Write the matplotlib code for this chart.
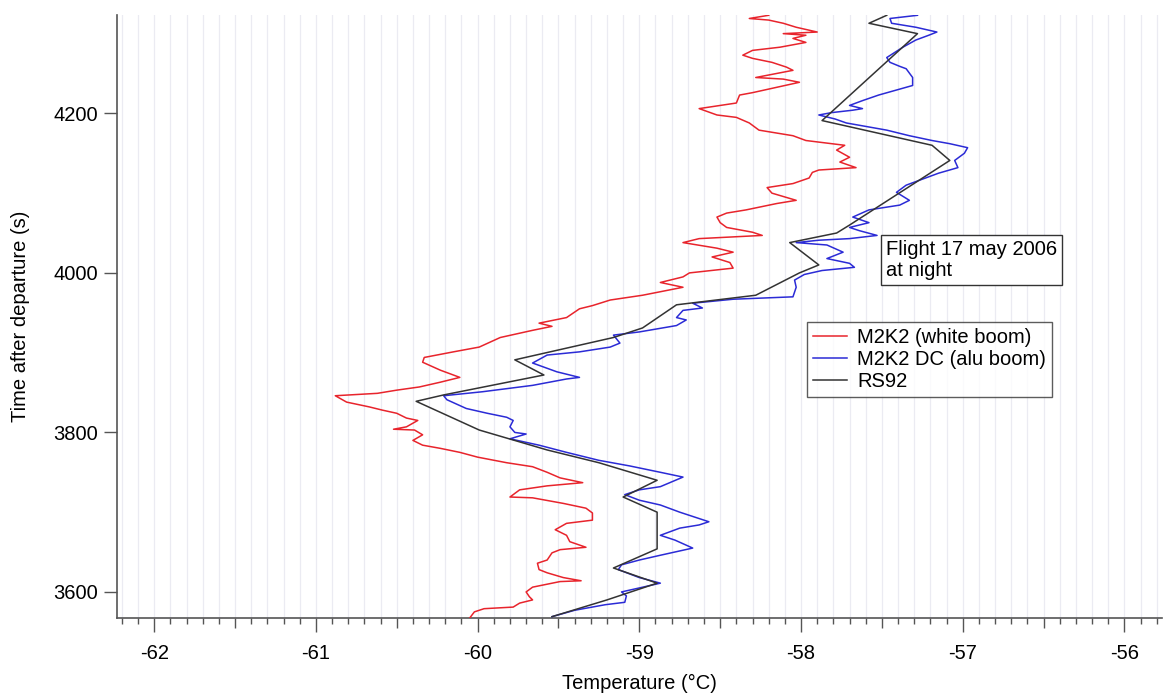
import numpy as np
import matplotlib
matplotlib.use("Agg")
import matplotlib.pyplot as plt
from matplotlib.ticker import MultipleLocator, FuncFormatter

plt.rcParams['font.family'] = ['Liberation Sans', 'DejaVu Sans']

# ------------------ Sounding data (time after departure in s, temperature in degC) ------------------
rs92_time = [3569, 3590, 3611, 3630, 3654, 3700, 3719, 3740, 3762, 3778,
             3803, 3839, 3847, 3872, 3891, 3919, 3931, 3960, 3972, 4000,
             4010, 4038, 4050, 4060, 4141, 4160, 4191, 4300, 4313, 4323]
rs92_temp = [-59.54, -59.20, -58.89, -59.16, -58.89, -58.89, -59.10, -58.89, -59.25, -59.57,
             -59.99, -60.38, -60.21, -59.59, -59.77, -59.16, -58.98, -58.77, -58.28, -58.01,
             -57.89, -58.07, -57.78, -57.70, -57.08, -57.19, -57.87, -57.28, -57.58, -57.47]

white_time = [3567, 3575, 3579, 3581, 3586, 3590, 3594, 3600, 3606, 3613,
              3614, 3618, 3624, 3628, 3636, 3640, 3649, 3653, 3656, 3663,
              3671, 3678, 3686, 3690, 3699, 3705, 3711, 3718, 3719, 3728,
              3733, 3737, 3743, 3750, 3757, 3762, 3769, 3775, 3780, 3784,
              3790, 3797, 3803, 3804, 3807, 3815, 3818, 3824, 3828, 3832,
              3838, 3846, 3849, 3853, 3857, 3863, 3869, 3878, 3888, 3894,
              3901, 3907, 3919, 3928, 3933, 3937, 3944, 3955, 3959, 3966,
              3972, 3978, 3982, 3988, 3995, 4000, 4006, 4013, 4020, 4026,
              4031, 4038, 4043, 4047, 4051, 4057, 4063, 4070, 4075, 4079,
              4087, 4091, 4100, 4107, 4112, 4119, 4126, 4129, 4132, 4139,
              4145, 4154, 4160, 4166, 4172, 4179, 4188, 4195, 4198, 4206,
              4213, 4223, 4226, 4239, 4243, 4245, 4254, 4258, 4264, 4269,
              4273, 4279, 4283, 4289, 4294, 4298, 4300, 4302, 4308, 4313,
              4317, 4319, 4323]
white_temp = [-60.05, -60.02, -59.96, -59.78, -59.74, -59.66, -59.68, -59.70, -59.66, -59.49,
              -59.36, -59.47, -59.57, -59.62, -59.63, -59.57, -59.54, -59.49, -59.33, -59.43,
              -59.45, -59.52, -59.45, -59.29, -59.29, -59.33, -59.47, -59.66, -59.80, -59.74,
              -59.57, -59.35, -59.49, -59.57, -59.66, -59.82, -60.00, -60.11, -60.23, -60.34,
              -60.40, -60.34, -60.39, -60.52, -60.44, -60.37, -60.44, -60.50, -60.59, -60.67,
              -60.81, -60.88, -60.62, -60.50, -60.36, -60.23, -60.11, -60.23, -60.34, -60.33,
              -60.15, -59.99, -59.86, -59.66, -59.54, -59.62, -59.45, -59.37, -59.29, -59.18,
              -58.98, -58.83, -58.73, -58.87, -58.73, -58.69, -58.42, -58.44, -58.55, -58.42,
              -58.52, -58.73, -58.63, -58.24, -58.30, -58.46, -58.50, -58.52, -58.46, -58.34,
              -58.15, -58.03, -58.18, -58.21, -58.05, -57.95, -57.93, -57.89, -57.66, -57.76,
              -57.70, -57.78, -57.73, -57.97, -58.05, -58.26, -58.32, -58.40, -58.52, -58.63,
              -58.40, -58.38, -58.30, -58.01, -58.11, -58.28, -58.05, -58.09, -58.18, -58.30,
              -58.36, -58.30, -58.13, -57.97, -58.05, -57.97, -58.11, -57.90, -58.03, -58.11,
              -58.20, -58.32, -58.20]

alu_time = [3569, 3577, 3584, 3587, 3595, 3600, 3605, 3611, 3618, 3628,
            3634, 3640, 3646, 3655, 3665, 3671, 3680, 3684, 3688, 3694,
            3700, 3709, 3715, 3722, 3728, 3732, 3744, 3750, 3758, 3765,
            3775, 3784, 3792, 3798, 3800, 3807, 3815, 3819, 3824, 3830,
            3841, 3846, 3851, 3859, 3867, 3869, 3876, 3887, 3897, 3901,
            3907, 3912, 3922, 3926, 3934, 3941, 3944, 3953, 3956, 3962,
            3967, 3970, 3982, 3991, 3998, 4003, 4007, 4012, 4018, 4026,
            4035, 4038, 4041, 4043, 4047, 4053, 4057, 4063, 4070, 4079,
            4085, 4091, 4101, 4110, 4116, 4125, 4132, 4141, 4150, 4157,
            4162, 4166, 4172, 4179, 4188, 4193, 4198, 4201, 4204, 4206,
            4210, 4216, 4223, 4235, 4245, 4256, 4259, 4264, 4270, 4283,
            4292, 4298, 4302, 4308, 4313, 4319, 4323]
alu_temp = [-59.54, -59.40, -59.21, -59.09, -59.08, -59.11, -59.00, -58.87, -59.00, -59.13,
            -59.11, -59.00, -58.87, -58.67, -58.78, -58.87, -58.75, -58.63, -58.57, -58.66,
            -58.75, -58.87, -59.00, -59.09, -59.00, -58.87, -58.73, -58.87, -59.06, -59.25,
            -59.45, -59.62, -59.80, -59.70, -59.77, -59.80, -59.78, -59.82, -59.94, -60.07,
            -60.19, -60.21, -59.97, -59.66, -59.45, -59.37, -59.51, -59.66, -59.57, -59.37,
            -59.18, -59.12, -59.16, -59.00, -58.77, -58.71, -58.77, -58.73, -58.61, -58.67,
            -58.42, -58.05, -58.03, -58.04, -57.98, -57.87, -57.67, -57.70, -57.84, -57.74,
            -57.84, -58.03, -57.89, -57.70, -57.53, -57.64, -57.70, -57.58, -57.68, -57.58,
            -57.39, -57.33, -57.41, -57.35, -57.27, -57.15, -57.03, -57.05, -56.99, -56.97,
            -57.08, -57.19, -57.33, -57.47, -57.72, -57.79, -57.89, -57.81, -57.68, -57.62,
            -57.70, -57.62, -57.52, -57.31, -57.31, -57.35, -57.39, -57.45, -57.47, -57.37,
            -57.29, -57.21, -57.16, -57.29, -57.44, -57.45, -57.28]

x_limits = (-62.23, -55.77)
y_limits = (3567.5, 4323)

# ------------------ Figure ------------------
fig = plt.figure(figsize=(11.64, 6.95), dpi=100)
ax = fig.add_axes([0.1005, 0.111, 0.8975, 0.867])

ax.plot(white_temp, white_time, color='#e8242c', lw=1.1, label='M2K2 (white boom)', zorder=3)
ax.plot(alu_temp, alu_time, color='#2b2bd6', lw=1.1, label='M2K2 DC (alu boom)', zorder=3)
ax.plot(rs92_temp, rs92_time, color='#333333', lw=1.1, label='RS92', zorder=4)

ax.set_xlim(*x_limits)
ax.set_ylim(*y_limits)

# axes: left and bottom only
for side in ['top', 'right']:
  ax.spines[side].set_visible(False)
for side in ['left', 'bottom']:
  ax.spines[side].set_color('#555555')
  ax.spines[side].set_linewidth(1.2)

# x ticks: majors every 0.5 (labels on integers only), minors every 0.1
ax.xaxis.set_major_locator(MultipleLocator(0.5))
ax.xaxis.set_minor_locator(MultipleLocator(0.1))
ax.xaxis.set_major_formatter(FuncFormatter(
  lambda v, p: f"{v:.0f}" if abs(v - round(v)) < 1e-6 else ""))
ax.yaxis.set_major_locator(MultipleLocator(200))
ax.yaxis.set_minor_locator(plt.NullLocator())

ax.tick_params(axis='x', which='major', direction='out', length=7, width=1.0,
               color='#555555', labelsize=14.5, pad=11.5)
ax.tick_params(axis='x', which='minor', direction='out', length=4.3, width=1.0,
               color='#555555')
ax.tick_params(axis='y', which='major', direction='out', length=9.5, width=1.0,
               color='#555555', labelsize=14.5, pad=4)

# longer tick marks on the whole degrees
fig.canvas.draw()
for tick in ax.xaxis.get_major_ticks():
  v = tick.get_loc()
  if abs(v - round(v)) < 1e-6:
    tick.tick1line.set_markersize(10)

# faint vertical grid at every minor tick
ax.grid(True, which='both', axis='x', color='#ebebf2', lw=0.9, zorder=0)
ax.set_axisbelow(True)

ax.set_xlabel('Temperature (°C)', fontsize=14.5, labelpad=8)
ax.set_ylabel('Time after departure (s)', fontsize=14.5, labelpad=17)

# legend and flight note
leg = ax.legend(loc='upper left', bbox_to_anchor=(807 / 1164, 1 - 322 / 695),
                bbox_transform=fig.transFigure, borderaxespad=0, fontsize=14.5,
                frameon=True, fancybox=False, handlelength=1.7, handletextpad=0.5,
                labelspacing=0.15, borderpad=0.3)
leg.get_frame().set_edgecolor('#333333')
leg.get_frame().set_linewidth(1.0)

fig.text(886 / 1164, 1 - 240 / 695, 'Flight 17 may 2006\nat night', fontsize=14.5,
         va='top', ha='left', linespacing=1.15,
         bbox=dict(boxstyle='square,pad=0.25', fc='white', ec='#333333', lw=1.0))

fig.savefig('out.png', dpi=100)
